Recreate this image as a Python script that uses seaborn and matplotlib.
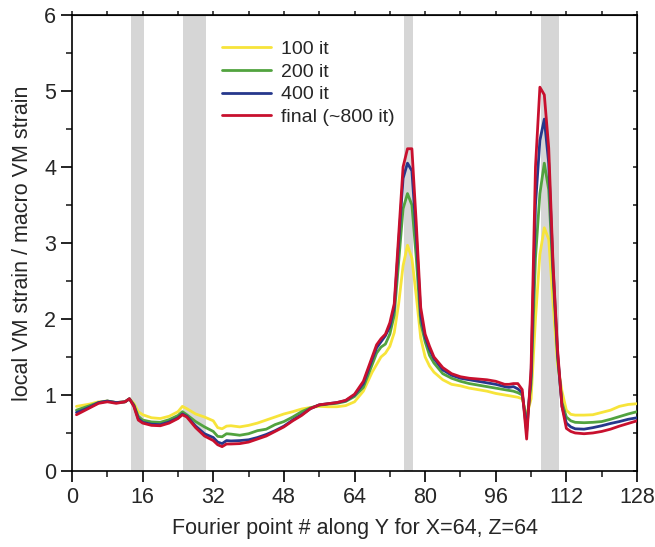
import matplotlib
matplotlib.use("Agg")
import matplotlib.pyplot as plt
import seaborn as sns
import pandas as pd
from matplotlib.ticker import MultipleLocator

sns.set_style("ticks")
plt.rcParams['font.family'] = ['Liberation Sans', 'DejaVu Sans']

# Fourier point positions (Y index) where values were read
fourier_pt = [1, 2, 4, 6, 8, 10, 12, 13, 14, 15, 16, 18, 20, 22, 24, 25, 26, 28, 30,
              32, 33, 34, 35, 36, 38, 40, 42, 44, 46, 48, 50, 52, 54, 56, 58, 60, 62,
              64, 66, 68, 69, 70, 71, 72, 73, 74, 75, 76, 77, 78, 79, 80, 81, 82, 84,
              86, 88, 90, 92, 94, 96, 98, 99, 100, 101, 102, 103, 104, 105, 106, 107,
              108, 109, 110, 111, 112, 113, 114, 116, 118, 120, 122, 124, 126, 128]

strain_100 = [0.85, 0.86, 0.88, 0.91, 0.92, 0.90, 0.91, 0.95, 0.89, 0.78, 0.74, 0.70, 0.69,
              0.72, 0.78, 0.85, 0.82, 0.75, 0.71, 0.66, 0.57, 0.555, 0.59, 0.595, 0.58,
              0.60, 0.63, 0.67, 0.71, 0.75, 0.78, 0.815, 0.835, 0.85, 0.845, 0.845, 0.86,
              0.91, 1.05, 1.30, 1.40, 1.50, 1.55, 1.64, 1.82, 2.20, 2.70, 2.97, 2.80, 2.30,
              1.75, 1.50, 1.38, 1.30, 1.20, 1.14, 1.12, 1.09, 1.07, 1.05, 1.02, 1.00, 0.99,
              0.98, 0.97, 0.95, 0.72, 0.95, 2.00, 2.85, 3.20, 3.05, 2.20, 1.40, 1.05, 0.80,
              0.745, 0.735, 0.735, 0.74, 0.77, 0.80, 0.85, 0.875, 0.885]

strain_200 = [0.80, 0.82, 0.86, 0.90, 0.92, 0.90, 0.91, 0.95, 0.87, 0.72, 0.67, 0.645, 0.64,
              0.675, 0.73, 0.78, 0.74, 0.65, 0.58, 0.52, 0.455, 0.45, 0.49, 0.485, 0.47,
              0.49, 0.53, 0.55, 0.61, 0.65, 0.71, 0.78, 0.83, 0.865, 0.88, 0.89, 0.915,
              0.98, 1.10, 1.40, 1.55, 1.63, 1.67, 1.80, 2.05, 2.75, 3.45, 3.65, 3.50, 2.80,
              1.95, 1.70, 1.52, 1.42, 1.28, 1.22, 1.18, 1.15, 1.13, 1.11, 1.09, 1.07, 1.06,
              1.05, 1.03, 1.00, 0.62, 1.15, 2.80, 3.65, 4.05, 3.70, 2.55, 1.50, 0.90, 0.71,
              0.66, 0.64, 0.635, 0.64, 0.65, 0.68, 0.715, 0.75, 0.78]

strain_400 = [0.77, 0.79, 0.84, 0.90, 0.92, 0.90, 0.91, 0.95, 0.86, 0.69, 0.64, 0.615, 0.61,
              0.645, 0.70, 0.75, 0.72, 0.59, 0.49, 0.44, 0.38, 0.36, 0.40, 0.395, 0.40,
              0.41, 0.44, 0.48, 0.53, 0.59, 0.67, 0.74, 0.82, 0.87, 0.885, 0.90, 0.925,
              1.00, 1.15, 1.47, 1.62, 1.70, 1.78, 1.90, 2.15, 3.00, 3.85, 4.05, 3.95, 3.10,
              2.05, 1.76, 1.60, 1.48, 1.33, 1.26, 1.22, 1.20, 1.18, 1.16, 1.14, 1.11, 1.10,
              1.11, 1.08, 1.03, 0.52, 1.25, 3.50, 4.35, 4.63, 4.05, 2.65, 1.55, 0.85, 0.63,
              0.58, 0.555, 0.55, 0.57, 0.595, 0.625, 0.65, 0.68, 0.70]

strain_final = [0.74, 0.77, 0.83, 0.89, 0.91, 0.89, 0.91, 0.95, 0.85, 0.67, 0.63, 0.60, 0.595,
                0.63, 0.69, 0.74, 0.71, 0.57, 0.46, 0.40, 0.345, 0.32, 0.355, 0.355, 0.36,
                0.38, 0.42, 0.46, 0.52, 0.58, 0.66, 0.73, 0.82, 0.87, 0.885, 0.90, 0.93,
                1.01, 1.18, 1.50, 1.66, 1.74, 1.80, 1.95, 2.20, 3.10, 4.00, 4.24, 4.24, 3.25,
                2.15, 1.80, 1.64, 1.50, 1.36, 1.28, 1.24, 1.22, 1.21, 1.20, 1.18, 1.14, 1.14,
                1.15, 1.15, 1.07, 0.42, 1.35, 4.00, 5.05, 4.95, 4.25, 2.70, 1.60, 0.85, 0.56,
                0.52, 0.50, 0.49, 0.50, 0.52, 0.55, 0.59, 0.625, 0.66]

series_names = ["100 it", "200 it", "400 it", "final (~800 it)"]
series_colors = ["#f7e43a", "#52a33f", "#26388c", "#c8102e"]

# shaded grain-boundary bands (start, end)
band_start = [13.3, 25.2, 75.2, 106.2]
band_end = [16.3, 30.4, 77.3, 110.3]

df = pd.DataFrame({
    "x": fourier_pt,
    series_names[0]: strain_100,
    series_names[1]: strain_200,
    series_names[2]: strain_400,
    series_names[3]: strain_final,
}).melt(id_vars="x", var_name="series", value_name="strain")

fig = plt.figure(figsize=(6.55, 5.47), dpi=100)
ax = fig.add_axes([0.110, 0.139, 0.8625, 0.8336])

for s, e in zip(band_start, band_end):
    ax.axvspan(s, e, color="#d6d6d6", lw=0, zorder=0)

sns.lineplot(data=df, x="x", y="strain", hue="series", hue_order=series_names,
             palette=dict(zip(series_names, series_colors)), linewidth=2, ax=ax,
             zorder=3)

ax.set_xlim(0, 128)
ax.set_ylim(0, 6)
ax.xaxis.set_major_locator(MultipleLocator(16))
ax.xaxis.set_minor_locator(MultipleLocator(8))
ax.yaxis.set_major_locator(MultipleLocator(1))
ax.yaxis.set_minor_locator(MultipleLocator(0.5))
ax.tick_params(axis="both", which="major", direction="out", length=8, width=1.2,
               labelsize=15.5, color="black")
ax.tick_params(axis="both", which="minor", direction="out", length=4, width=1.2)
for sp in ax.spines.values():
    sp.set_linewidth(1.2)
    sp.set_color("black")

# small ticks on the top and right frame
top = ax.secondary_xaxis("top")
top.xaxis.set_major_locator(MultipleLocator(8))
top.tick_params(direction="out", length=3, width=1.2, labeltop=False)
right = ax.secondary_yaxis("right")
right.yaxis.set_major_locator(MultipleLocator(0.5))
right.tick_params(direction="in", length=3, width=1.2, labelright=False)

ax.set_xlabel("Fourier point # along Y for X=64, Z=64", fontsize=15.5, labelpad=7)
ax.set_ylabel("local VM strain / macro VM strain", fontsize=15.5, labelpad=8)

ax.legend(loc="upper left", bbox_to_anchor=(0.252, 0.962), frameon=False,
          fontsize=14, handlelength=2.5, handletextpad=0.55, labelspacing=0.27,
          borderaxespad=0)

fig.savefig("out.png", dpi=100)
